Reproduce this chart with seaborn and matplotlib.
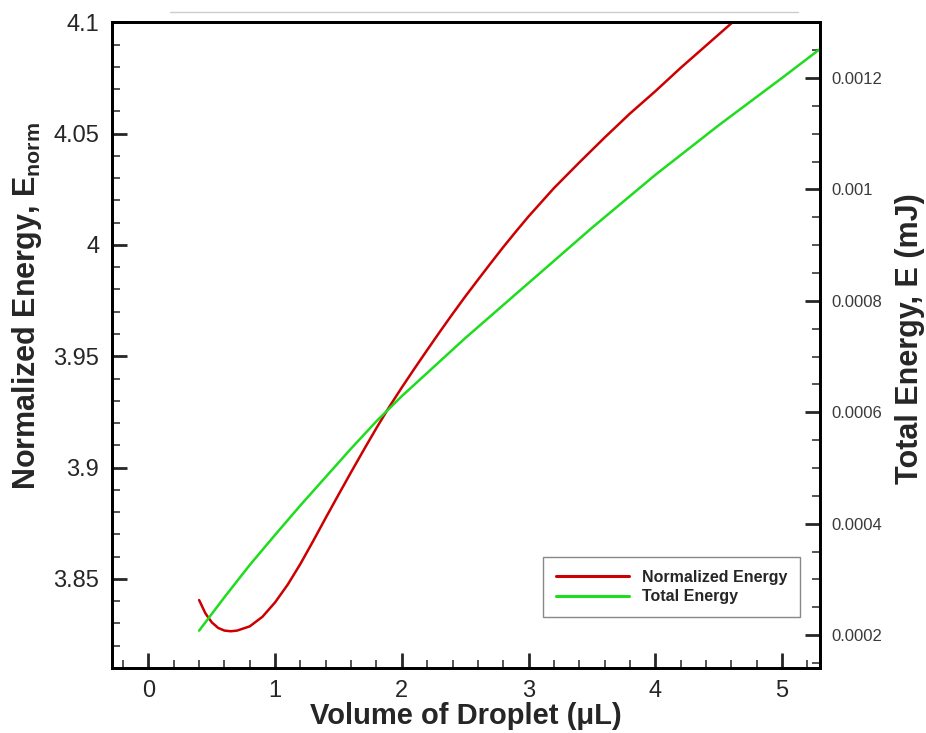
import numpy as np
import pandas as pd
import seaborn as sns
import matplotlib.pyplot as plt
from matplotlib.ticker import MultipleLocator
from matplotlib.lines import Line2D

# values
vol_norm = [0.40, 0.45, 0.50, 0.55, 0.60, 0.65, 0.70, 0.80, 0.90, 1.00, 1.10,
            1.20, 1.30, 1.40, 1.50, 1.60, 1.70, 1.80, 1.90, 2.00, 2.10, 2.20,
            2.30, 2.40, 2.50, 2.60, 2.70, 2.80, 2.90, 3.00, 3.20, 3.40, 3.60,
            3.80, 4.00, 4.20, 4.40, 4.60, 4.80]
e_norm = [3.8405, 3.8345, 3.8305, 3.8280, 3.8268, 3.8265, 3.8268, 3.8287,
          3.8330, 3.8395, 3.8475, 3.8568, 3.8670, 3.8775, 3.8878, 3.8980,
          3.9080, 3.9178, 3.9272, 3.9360, 3.9445, 3.9528, 3.9610, 3.9690,
          3.9768, 3.9843, 3.9917, 3.9990, 4.0060, 4.0128, 4.0255, 4.0370,
          4.0482, 4.0590, 4.0690, 4.0795, 4.0895, 4.0995, 4.1095]

vol_total = [0.40, 0.60, 0.80, 1.00, 1.20, 1.40, 1.60, 1.80, 2.00, 2.50,
             3.00, 3.50, 4.00, 4.50, 5.00, 5.30]
e_total = [0.000208, 0.000268, 0.000326, 0.000380, 0.000433, 0.000484,
           0.000535, 0.000584, 0.000629, 0.000733, 0.000832, 0.000931,
           0.001026, 0.001115, 0.001200, 0.001252]

red = '#cc0000'
green = '#1edc1e'

sns.set_theme(style='ticks')
plt.rcParams['font.family'] = ['Liberation Sans', 'DejaVu Sans']
plt.rcParams['mathtext.fontset'] = 'custom'
plt.rcParams['mathtext.rm'] = 'Liberation Sans:bold'
plt.rcParams['mathtext.default'] = 'rm'

df_norm = pd.DataFrame({'vol': vol_norm, 'e': e_norm})
df_total = pd.DataFrame({'vol': vol_total, 'e': e_total})

fig = plt.figure(figsize=(9.26, 7.33), dpi=100)
ax = fig.add_axes([0.1206, 0.0887, 0.7649, 0.8809])
ax2 = ax.twinx()

sns.lineplot(data=df_norm, x='vol', y='e', ax=ax, color=red, lw=1.8,
             sort=False, estimator=None)
sns.lineplot(data=df_total, x='vol', y='e', ax=ax2, color=green, lw=1.8,
             sort=False, estimator=None)

ax.set_xlim(-0.29, 5.3)
ax.set_ylim(3.81, 4.1)
ax2.set_ylim(0.000141, 0.0013)

ax.xaxis.set_major_locator(MultipleLocator(1))
ax.xaxis.set_minor_locator(MultipleLocator(0.2))
ax.yaxis.set_major_locator(MultipleLocator(0.05))
ax.yaxis.set_minor_locator(MultipleLocator(0.01))
ax2.yaxis.set_major_locator(MultipleLocator(0.0002))
ax2.yaxis.set_minor_locator(MultipleLocator(0.00005))
ax.yaxis.set_major_formatter(lambda v, p: f'{v:g}')
ax2.yaxis.set_major_formatter(lambda v, p: f'{v:.5f}'.rstrip('0'))
ax.xaxis.set_major_formatter(lambda v, p: f'{v:g}')

ax.tick_params(axis='both', which='major', direction='in', length=11,
               width=2, labelsize=17, labelcolor='#262626', pad=9)
ax.tick_params(axis='both', which='minor', direction='in', length=6,
               width=1.1)
ax.tick_params(axis='y', which='both', left=True, right=False)
ax.tick_params(axis='x', which='both', bottom=True, top=False)
ax2.tick_params(axis='y', which='major', direction='in', length=11,
                width=2, labelsize=12, labelcolor='#3a3a3a', pad=8)
ax2.tick_params(axis='y', which='minor', direction='in', length=6,
                width=1.1)

for a in (ax, ax2):
    for s in a.spines.values():
        s.set_linewidth(2)
        s.set_color('black')

ax.set_xlabel('Volume of Droplet (μL)', fontsize=21, fontweight='bold')
ax.set_ylabel(r'Normalized Energy, E$_{\rm norm}$', fontsize=22,
              fontweight='bold')
ax2.set_ylabel('Total Energy, E (mJ)', fontsize=22, fontweight='bold')
ax.xaxis.set_label_coords(0.5, -0.052)
ax.yaxis.set_label_coords(-0.096, 0.56)
ax2.yaxis.set_label_coords(1.106, 0.51)

handles = [Line2D([], [], color=red, lw=2.2), Line2D([], [], color=green, lw=2.2)]
leg = ax2.legend(handles, ['Normalized Energy', 'Total Energy'],
                 loc='upper right', bbox_to_anchor=(0.972, 0.172),
                 borderaxespad=0, fancybox=False, framealpha=1,
                 edgecolor='#888888', handlelength=4.6, handletextpad=0.8,
                 labelspacing=0.3, borderpad=0.8,
                 prop={'size': 11.5, 'weight': 'bold'})
leg.get_frame().set_linewidth(1)

# faint rule above the frame, as in the source image
fig.add_artist(Line2D([170 / 926, 798 / 926], [1 - 12 / 733, 1 - 12 / 733],
                      color='#cccccc', lw=1, transform=fig.transFigure))

fig.savefig('out.png', dpi=100)
